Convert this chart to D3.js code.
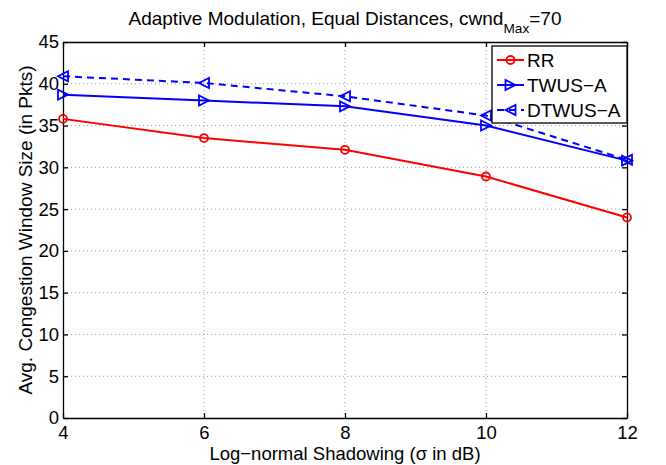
<!DOCTYPE html>
<html><head><meta charset="utf-8">
<script src="https://cdn.jsdelivr.net/npm/d3@7"></script>
<style>
html,body{margin:0;padding:0;background:#fff;}
text{font-family:"Liberation Sans",Arial,Helvetica,sans-serif;}
</style></head>
<body>
<svg id="chart" width="666" height="465"></svg>
<script>
const xValues = [4, 6, 8, 10, 12];
const rrValues = [35.8, 33.5, 32.1, 28.9, 24.0];
const twusValues = [38.7, 38.0, 37.3, 35.0, 30.8];
const dtwusValues = [40.9, 40.1, 38.5, 36.2, 30.9];
const seriesNames = ["RR", "TWUS\u2212A", "DTWUS\u2212A"];
const xTicks = [4, 6, 8, 10, 12];
const yTicks = [0, 5, 10, 15, 20, 25, 30, 35, 40, 45];

const FS = 19;
const TFS = 18.5;
const svg = d3.select("#chart");
const L = 63, R = 627, T = 42, B = 418;
const x = d3.scaleLinear().domain([4, 12]).range([L, R]);
const y = d3.scaleLinear().domain([0, 45]).range([B, T]);

// grid
const grid = svg.append("g");
grid.selectAll(".gx").data(xTicks.slice(1, -1)).enter().append("line")
  .attr("x1", d => x(d)).attr("x2", d => x(d)).attr("y1", T).attr("y2", B)
  .attr("stroke", "#999").attr("stroke-width", 1).attr("stroke-dasharray", "1,3");
grid.selectAll(".gy").data(yTicks.slice(1, -1)).enter().append("line")
  .attr("y1", d => y(d)).attr("y2", d => y(d)).attr("x1", L).attr("x2", R)
  .attr("stroke", "#999").attr("stroke-width", 1).attr("stroke-dasharray", "1,3");

// axes via d3 axis (inward ticks)
const fmt = d3.format("d");
const xAxis = svg.append("g").attr("transform", `translate(0,${B})`)
  .call(d3.axisBottom(x).tickValues(xTicks).tickFormat(fmt).tickSizeInner(-5).tickSizeOuter(0).tickPadding(8));
const xAxisTop = svg.append("g").attr("transform", `translate(0,${T})`)
  .call(d3.axisTop(x).tickValues(xTicks).tickFormat("").tickSizeInner(-5).tickSizeOuter(0));
const yAxis = svg.append("g").attr("transform", `translate(${L},0)`)
  .call(d3.axisLeft(y).tickValues(yTicks).tickFormat(fmt).tickSizeInner(-5).tickSizeOuter(0).tickPadding(4));
const yAxisRight = svg.append("g").attr("transform", `translate(${R},0)`)
  .call(d3.axisRight(y).tickValues(yTicks).tickFormat("").tickSizeInner(-5).tickSizeOuter(0));
[xAxis, xAxisTop, yAxis, yAxisRight].forEach(g => {
  g.select(".domain").attr("stroke", "#000").attr("stroke-width", 1.3);
  g.selectAll(".tick line").attr("stroke", "#000").attr("stroke-width", 1.3);
  g.selectAll("text").attr("font-size", TFS).attr("fill", "#000")
    .attr("font-family", '"Liberation Sans",Arial,sans-serif');
});

// lines
const line = d3.line().x((d, i) => x(xValues[i])).y(d => y(d));
const seriesDefs = [
  {vals: rrValues, color: "#ff0000", dash: null, marker: "circle"},
  {vals: twusValues, color: "#0000ff", dash: null, marker: "right"},
  {vals: dtwusValues, color: "#0000ff", dash: "7,5", marker: "left"}
];
function marker(g, type, cx, cy, color) {
  if (type === "circle") {
    g.append("circle").attr("cx", cx).attr("cy", cy).attr("r", 4)
      .attr("fill", "none").attr("stroke", color).attr("stroke-width", 1.8);
  } else {
    const s = 5;
    const pts = type === "right"
      ? [[cx + s, cy], [cx - s, cy - s], [cx - s, cy + s]]
      : [[cx - s, cy], [cx + s, cy - s], [cx + s, cy + s]];
    g.append("path").attr("d", "M" + pts.map(p => p.join(",")).join("L") + "Z")
      .attr("fill", "none").attr("stroke", color).attr("stroke-width", 1.8);
  }
}
const plot = svg.append("g");
seriesDefs.forEach(s => {
  plot.append("path").datum(s.vals).attr("d", line)
    .attr("fill", "none").attr("stroke", s.color).attr("stroke-width", 2)
    .attr("stroke-dasharray", s.dash);
  s.vals.forEach((v, i) => marker(plot, s.marker, x(xValues[i]), y(v), s.color));
});

// legend
const lg = svg.append("g");
const lx = 492, ly = 46, lw = 135, lh = 77;
lg.append("rect").attr("x", lx).attr("y", ly).attr("width", lw).attr("height", lh)
  .attr("fill", "#fff").attr("stroke", "#000").attr("stroke-width", 1.3);
seriesDefs.forEach((s, i) => {
  const yy = ly + 14 + i * 25;
  lg.append("line").attr("x1", lx + 5).attr("x2", lx + 32).attr("y1", yy).attr("y2", yy)
    .attr("stroke", s.color).attr("stroke-width", 2).attr("stroke-dasharray", s.dash);
  marker(lg, s.marker, lx + 18.5, yy, s.color);
  lg.append("text").attr("x", lx + 35).attr("y", yy).attr("dy", "0.36em")
    .attr("font-size", FS).text(seriesNames[i]);
});

// title
const title = svg.append("text").attr("x", (L + R) / 2).attr("y", 25)
  .attr("text-anchor", "middle").attr("font-size", FS);
title.append("tspan").text("Adaptive Modulation, Equal Distances, cwnd");
title.append("tspan").attr("font-size", FS * 0.72).attr("dy", 8).text("Max");
title.append("tspan").attr("dy", -8).text("=70");

// axis labels
svg.append("text").attr("x", (L + R) / 2).attr("y", 460).attr("text-anchor", "middle")
  .attr("font-size", 18.5).text("Log\u2212normal Shadowing (\u03c3 in dB)");
svg.append("text").attr("transform", `translate(32,${(T + B) / 2}) rotate(-90)`)
  .attr("text-anchor", "middle").attr("font-size", FS)
  .text("Avg. Congestion Window Size (in Pkts)");
</script>
</body></html>
